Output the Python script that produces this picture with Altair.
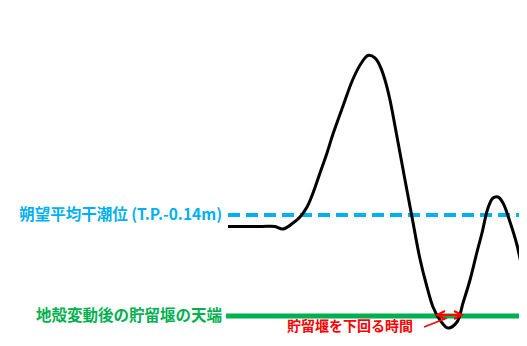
import altair as alt
import pandas as pd

# Water level curve: time (min) and level (m, T.P.)
times = [44.0, 50.8, 53.4, 55.0, 57.0, 58.4, 59.8, 61.0, 62.4, 63.8, 65.0, 67.0, 69.0,
         70.8, 72.0, 73.4, 74.4, 75.4, 76.4, 77.4, 78.4, 79.4, 80.8, 82.4, 83.8, 85.0,
         86.4, 88.0, 89.8, 91.0, 92.4, 93.8, 94.8, 96.0, 97.0, 98.0, 99.0, 100.4, 101.8,
         103.0, 103.8]
levels = [-0.715, -0.715, -0.715, -0.84, -0.54, -0.24, 0.26, 0.96, 1.96, 2.96, 3.91,
          5.31, 6.66, 7.51, 7.835, 7.71, 7.31, 6.61, 5.61, 4.31, 2.96, 1.61, -0.24, -2.34,
          -3.74, -4.74, -5.39, -5.79, -5.49, -4.54, -3.39, -1.99, -1.04, 0.21, 0.71,
          0.76, 0.46, -0.49, -1.64, -2.99, -3.64]

# Reference levels
ref_names = ["朔望平均干潮位 (T.P.-0.14m)", "地殻変動後の貯留堰の天端"]
ref_levels = [-0.14, -5.19]
ref_colors = ["#00b0f0", "#00b050"]
line_start = 44
line_end = 103.8
label_t = 42.8

# Annotation
ann_text = "貯留堰を下回る時間"
ann_t = 68.4
ann_level = -5.74
arrow_t = [85.8, 90.8]
arrow_level = -5.14
pointer_t = [83.2, 87.8]
pointer_level = [-5.74, -5.29]

X_DOM = [0, 102.2]
Y_DOM = [-6.09, 10.21]


def X(f):
    return alt.X(f, scale=alt.Scale(domain=X_DOM, nice=False, zero=False), axis=None)


def Y(f):
    return alt.Y(f, scale=alt.Scale(domain=Y_DOM, nice=False, zero=False), axis=None)


curve_df = pd.DataFrame({"t": times, "lv": levels})
curve = alt.Chart(curve_df).mark_line(
    color="black", strokeWidth=3, interpolate="catmull-rom", clip=True
).encode(x=X("t:Q"), y=Y("lv:Q"))

blue_df = pd.DataFrame({"t0": [line_start], "t1": [line_end], "lv": [ref_levels[0]]})
green_df = pd.DataFrame({"t0": [line_start - 0.4], "t1": [line_end], "lv": [ref_levels[1]]})

blue_line = alt.Chart(blue_df).mark_rule(
    color=ref_colors[0], strokeWidth=4, strokeDash=[12, 6], clip=True
).encode(x=X("t0:Q"), x2="t1:Q", y=Y("lv:Q"))

green_line = alt.Chart(green_df).mark_rule(
    color=ref_colors[1], strokeWidth=5, clip=True
).encode(x=X("t0:Q"), x2="t1:Q", y=Y("lv:Q"))

blue_lab = alt.Chart(pd.DataFrame({"t": [label_t], "lv": [ref_levels[0]], "name": [ref_names[0]]})).mark_text(
    align="right", baseline="middle", fontSize=15.5, fontWeight="bold",
    font="Noto Sans CJK JP", color=ref_colors[0]
).encode(x=X("t:Q"), y=Y("lv:Q"), text="name:N")

green_lab = alt.Chart(pd.DataFrame({"t": [label_t], "lv": [ref_levels[1]], "name": [ref_names[1]]})).mark_text(
    align="right", baseline="middle", fontSize=15.5, fontWeight="bold",
    font="Noto Sans CJK JP", color=ref_colors[1]
).encode(x=X("t:Q"), y=Y("lv:Q"), text="name:N")

ann = alt.Chart(pd.DataFrame({"t": [ann_t], "lv": [ann_level], "txt": [ann_text]})).mark_text(
    align="center", baseline="middle", fontSize=14, fontWeight="bold",
    font="Noto Sans CJK JP", color="#ff0000"
).encode(x=X("t:Q"), y=Y("lv:Q"), text="txt:N")

shaft = alt.Chart(pd.DataFrame({"t0": [arrow_t[0]], "t1": [arrow_t[1]], "lv": [arrow_level]})).mark_rule(
    color="#ff0000", strokeWidth=2
).encode(x=X("t0:Q"), x2="t1:Q", y=Y("lv:Q"))

left_head = alt.Chart(pd.DataFrame({"t": [arrow_t[0]], "lv": [arrow_level], "k": ["L"]})).mark_point(
    shape="M1,-0.5L0,0L1,0.5", size=256, filled=False, color="#ff0000", strokeWidth=2,
    opacity=1
).encode(x=X("t:Q"), y=Y("lv:Q"))

right_head = alt.Chart(pd.DataFrame({"t": [arrow_t[1]], "lv": [arrow_level], "k": ["R"]})).mark_point(
    shape="M-1,-0.5L0,0L-1,0.5", size=256, filled=False, color="#ff0000", strokeWidth=2,
    opacity=1
).encode(x=X("t:Q"), y=Y("lv:Q"))

pointer = alt.Chart(pd.DataFrame({"t0": [pointer_t[0]], "t1": [pointer_t[1]],
                                  "l0": [pointer_level[0]], "l1": [pointer_level[1]]})).mark_rule(
    color="#ff0000", strokeWidth=1.5
).encode(x=X("t0:Q"), x2="t1:Q", y=Y("l0:Q"), y2="l1:Q")

chart = alt.layer(
    blue_line, green_line, curve, blue_lab, green_lab, ann, shaft, left_head, right_head, pointer
).properties(
    width=511, height=326
).configure(
    padding=0, autosize=alt.AutoSizeParams(type="none")
).configure_view(stroke=None)

chart.save("out.html", embed_options={"renderer": "svg", "actions": False})
